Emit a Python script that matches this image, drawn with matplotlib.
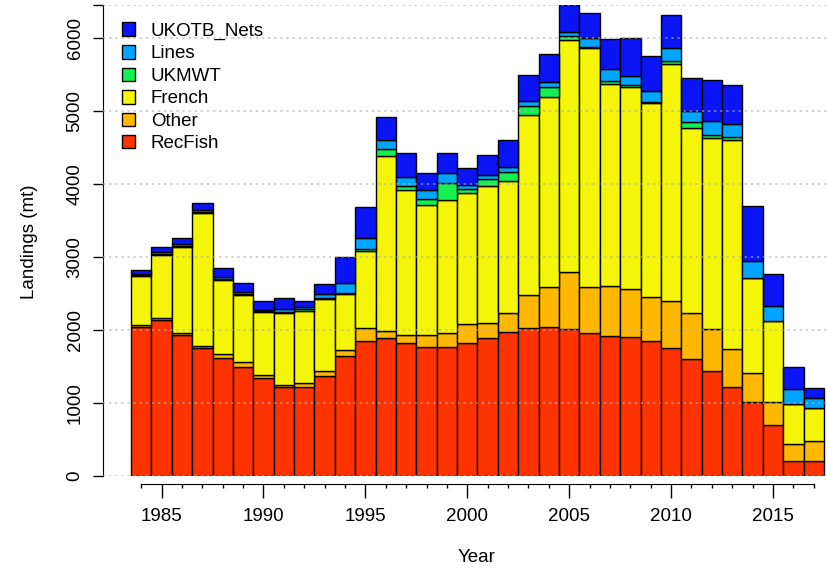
import numpy as np
import matplotlib.pyplot as plt
from matplotlib.patches import Patch

plt.rcParams['font.family'] = ['Liberation Sans', 'DejaVu Sans']

years = np.arange(1984, 2018)
recfish = [2040, 2140, 1935, 1750, 1612, 1500, 1347, 1224, 1215, 1375,
           1645, 1850, 1886, 1817, 1763, 1763, 1817, 1895, 1973, 2030,
           2045, 2010, 1955, 1918, 1900, 1854, 1749, 1598, 1438, 1224,
           1018, 700, 205, 210]
other = [30, 30, 20, 35, 55, 60, 37, 20, 55, 70,
         75, 175, 105, 115, 170, 190, 260, 195, 255, 450,
         550, 790, 630, 685, 660, 605, 650, 630, 575, 510,
         390, 320, 235, 275]
french = [670, 860, 1185, 1825, 1020, 920, 865, 995, 995, 985,
          775, 1065, 2395, 1985, 1780, 1835, 1795, 1885, 1820, 2465,
          2600, 3175, 3275, 2775, 2775, 2650, 3245, 2535, 2625, 2875,
          1310, 1110, 550, 445]
ukmwt = [10, 15, 10, 10, 10, 10, 15, 10, 20, 10,
         10, 15, 90, 60, 85, 230, 60, 100, 115, 130,
         130, 60, 20, 30, 20, 15, 40, 90, 40, 35,
         0, 0, 0, 0]
lines = [15, 30, 30, 20, 25, 25, 15, 45, 25, 55,
         145, 155, 130, 120, 115, 135, 50, 55, 75, 70,
         80, 55, 125, 165, 130, 150, 175, 145, 185, 185,
         230, 200, 205, 145]
ukotb = [55, 70, 75, 95, 135, 130, 120, 150, 90, 140,
         355, 425, 310, 335, 240, 275, 235, 265, 360, 350,
         380, 365, 345, 410, 515, 480, 455, 460, 560, 535,
         755, 440, 305, 130]

series = [recfish, other, french, ukmwt, lines, ukotb]
names = ['RecFish', 'Other', 'French', 'UKMWT', 'Lines', 'UKOTB_Nets']
cols = ['#FF3300', '#FFB800', '#F5F50A', '#14F050', '#00A5FF', '#0A14F5']

fig = plt.figure(figsize=(8.27, 5.69), dpi=100)
W, H = 827, 569
ax = fig.add_axes([103 / W, 1 - 476 / H, 724 / W, 471 / H])

bottom = np.zeros(len(years))
for vals, c in zip(series, cols):
    ax.bar(years, vals, width=1.0, bottom=bottom, color=c,
           edgecolor='black', linewidth=1.0, zorder=2)
    bottom += np.array(vals)

top = bottom.max()
ax.set_xlim(1982.126, 2017.65)
ax.set_ylim(0, top)

yt = list(np.arange(0, 7000, 1000)) + [top]
for y in yt:
    ax.axhline(y, color='#b0b0b0', linestyle=(0, (1.5, 2.5)), linewidth=1.1,
               zorder=3, alpha=0.75)
ax.set_yticks(yt)
ax.set_yticklabels([str(int(v)) for v in yt[:-1]] + [''], rotation=90,
                   va='center', fontsize=13.5)
ax.tick_params(axis='y', length=7, width=1, pad=7)

ax.spines['top'].set_visible(False)
ax.spines['right'].set_visible(False)
ax.spines['left'].set_bounds(0, top)
ax.spines['bottom'].set_position(('outward', 6))
ax.spines['bottom'].set_bounds(1984, 2017)

ax.set_xticks(np.arange(1985, 2016, 5))
ax.set_xticks(years, minor=True)
ax.tick_params(axis='x', which='major', length=10, width=1, pad=7,
               labelsize=13.5)
ax.tick_params(axis='x', which='minor', length=3, width=1)

fig.text(477 / W, 1 - 558 / H, 'Year', fontsize=13.5, ha='center', va='center')
fig.text(30 / W, 1 - 242 / H, 'Landings (mt)', fontsize=13.5, rotation=90,
         ha='center', va='center')

handles = [Patch(facecolor=c, edgecolor='black', linewidth=1.0)
           for c in cols[::-1]]
ax.legend(handles, names[::-1], loc='upper left',
          bbox_to_anchor=(114 / W, 1 - 15 / H), bbox_transform=fig.transFigure,
          frameon=False, fontsize=13.5, handlelength=0.72, handleheight=0.72,
          handletextpad=0.85, labelspacing=0.28, borderaxespad=0)

fig.savefig('out.png', dpi=100)
